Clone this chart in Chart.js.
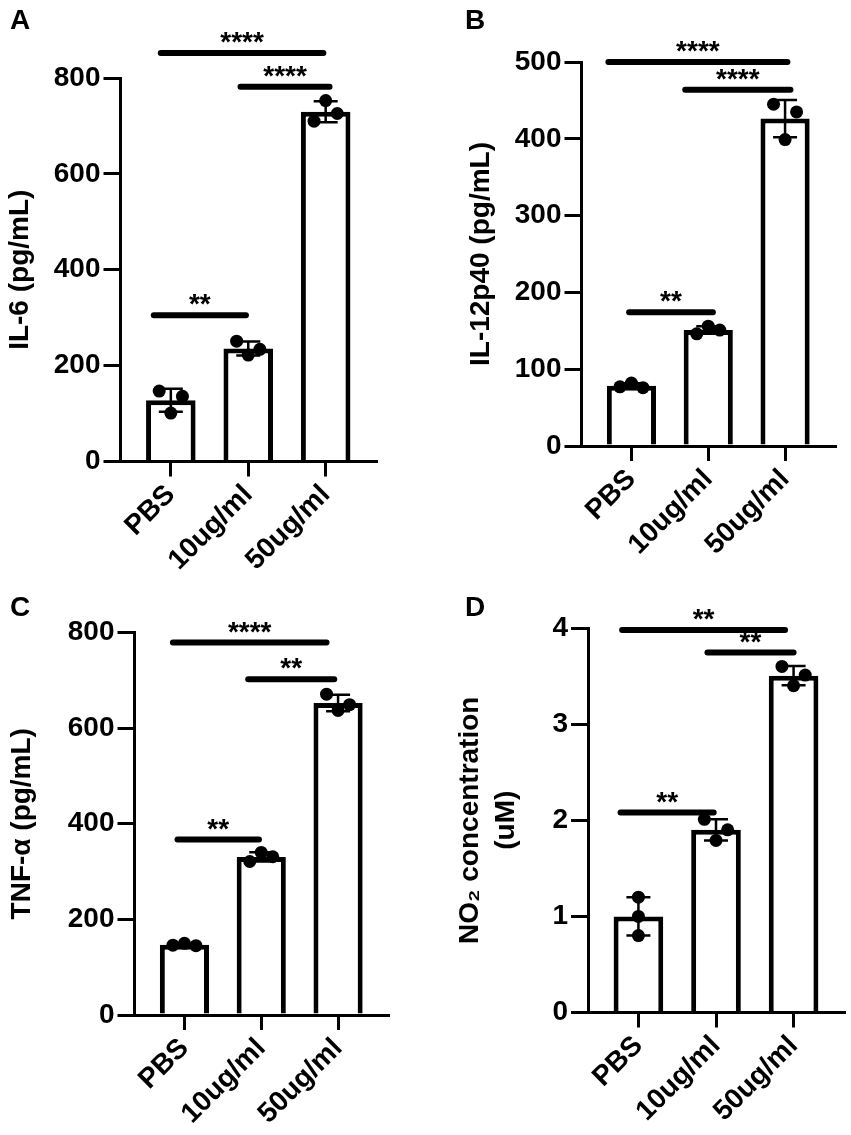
<!DOCTYPE html>
<html>
<head>
<meta charset="utf-8">
<title>Cytokine and NO2 release</title>
<script src="https://cdn.jsdelivr.net/npm/chart.js@4.4.1/dist/chart.umd.min.js"></script>
<style>
  body { margin: 0; background: #fff; }
  .panel { position: absolute; }
  .letter { position: absolute; font: bold 28px "Liberation Sans", Arial, sans-serif; line-height: 28px; color: #000; }
</style>
</head>
<body>
<div class="panel" style="left:0;top:0;width:425px;height:590px"><canvas id="chartA"></canvas></div>
<div class="panel" style="left:425px;top:0;width:426px;height:590px"><canvas id="chartB"></canvas></div>
<div class="panel" style="left:0;top:575px;width:425px;height:560px"><canvas id="chartC"></canvas></div>
<div class="panel" style="left:425px;top:575px;width:426px;height:560px"><canvas id="chartD"></canvas></div>
<div class="letter" style="left:10px;top:6px">A</div>
<div class="letter" style="left:465px;top:6px">B</div>
<div class="letter" style="left:10px;top:593px">C</div>
<div class="letter" style="left:465px;top:593px">D</div>
<script>
const groups = ['PBS', '10ug/ml', '50ug/ml'];

// three replicates per group
const il6 = [[147, 101, 136], [251, 222, 234], [710, 753, 726]];
const il12p40 = [[77, 82, 76], [146, 156, 151], [445, 399, 435]];
const tnfa = [[146, 150, 145], [321, 340, 331], [671, 637, 649]];
const no2 = [[1.2, 1.0, 0.8], [2.01, 1.79, 1.9], [3.60, 3.40, 3.51]];

const il6Ticks = [0, 200, 400, 600, 800];
const il12p40Ticks = [0, 100, 200, 300, 400, 500];
const tnfaTicks = [0, 200, 400, 600, 800];
const no2Ticks = [0, 1, 2, 3, 4];

// significance bars: [from group, to group, height, label]
const il6Sig = [[-0.13, 1.97, 852, '****'], [0.9, 2.05, 782, '****'], [-0.22, 0.97, 305, '**']];
const il12p40Sig = [[-0.3, 2.03, 500, '****'], [0.7, 2.07, 464, '****'], [-0.03, 1.06, 174, '**']];
const tnfaSig = [[-0.15, 1.85, 779, '****'], [0.83, 1.95, 702, '**'], [-0.09, 0.97, 367, '**']];
const no2Sig = [[-0.21, 1.89, 3.98, '**'], [0.89, 2.0, 3.745, '**'], [-0.23, 0.97, 2.08, '**']];

const FONT = '"Liberation Sans", Arial, sans-serif';
const mean = a => a.reduce((s, v) => s + v, 0) / a.length;
const sd = a => {
  const m = mean(a);
  return Math.sqrt(a.reduce((s, v) => s + (v - m) ** 2, 0) / (a.length - 1));
};

// spread the dots sideways only when they would overlap
function spread(reps, max) {
  const near = reps.some((v, i) => reps.some((w, j) => i !== j && Math.abs(v - w) < max * 0.036));
  return near ? [-0.15, 0, 0.15] : [0, 0, 0];
}

function marks(reps, sig) {
  return {
    id: 'marks',
    afterDatasetDraw(chart, args) {
      if (args.index !== 0) return;
      const {ctx, scales: {x, y}} = chart;
      ctx.save();
      ctx.strokeStyle = '#000';
      ctx.lineWidth = 2.5;
      reps.forEach((r, i) => {
        const m = mean(r), s = sd(r), px = x.getPixelForValue(i);
        const top = y.getPixelForValue(m + s), bot = y.getPixelForValue(m - s);
        ctx.beginPath();
        ctx.moveTo(px, top); ctx.lineTo(px, bot);
        ctx.moveTo(px - 12, top); ctx.lineTo(px + 12, top);
        ctx.moveTo(px - 12, bot); ctx.lineTo(px + 12, bot);
        ctx.stroke();
      });
      ctx.restore();
    },
    afterDraw(chart) {
      const {ctx, scales: {x, y}} = chart;
      ctx.save();
      ctx.strokeStyle = '#000';
      ctx.fillStyle = '#000';
      ctx.lineWidth = 6;
      ctx.lineCap = 'round';
      ctx.font = 'bold 28px ' + FONT;
      ctx.textAlign = 'center';
      ctx.textBaseline = 'alphabetic';
      sig.forEach(([a, b, v, label]) => {
        const x0 = x.getPixelForValue(a), x1 = x.getPixelForValue(b), py = y.getPixelForValue(v);
        ctx.beginPath();
        ctx.moveTo(x0, py); ctx.lineTo(x1, py);
        ctx.stroke();
        ctx.fillText(label, (x0 + x1) / 2, py - 2);
      });
      ctx.restore();
    }
  };
}

function panel(id, p) {
  const ticks = p.ticks;
  const max = ticks[ticks.length - 1];
  const font = {family: FONT, size: 28, weight: 'bold'};
  const dots = [];
  p.reps.forEach((r, i) => {
    const off = spread(r, max);
    r.forEach((v, k) => dots.push({x: i + off[k], y: v}));
  });
  const H = p.height;
  new Chart(document.getElementById(id), {
    data: {
      datasets: [
        {
          type: 'bar',
          data: p.reps.map((r, i) => ({x: i, y: mean(r)})),
          backgroundColor: '#fff',
          borderColor: '#000',
          borderWidth: 5,
          categoryPercentage: 0.8,
          barPercentage: 0.8,
          order: 2
        },
        {
          type: 'scatter',
          data: dots,
          pointRadius: 6.5,
          pointBackgroundColor: '#000',
          pointBorderWidth: 0,
          order: 1
        }
      ]
    },
    options: {
      responsive: true,
      maintainAspectRatio: false,
      animation: false,
      events: [],
      layout: {padding: {top: p.top, right: p.right, bottom: 0, left: 0}},
      plugins: {legend: {display: false}, tooltip: {enabled: false}},
      scales: {
        x: {
          type: 'linear',
          offset: false,
          min: -0.65,
          max: 2.65,
          afterBuildTicks: s => { s.ticks = groups.map((g, i) => ({value: i})); },
          afterFit: s => { s.height = H - p.bottom; },
          ticks: {
            callback: v => groups[v],
            autoSkip: false,
            minRotation: 45,
            maxRotation: 45,
            padding: 2,
            color: '#000',
            font: font
          },
          grid: {offset: false, drawOnChartArea: false, tickLength: 15, lineWidth: 3, color: '#000'},
          border: {width: 3, color: '#000'}
        },
        y: {
          min: 0,
          max: max,
          afterBuildTicks: s => { s.ticks = ticks.map(v => ({value: v})); },
          afterFit: s => { s.width = p.left; },
          ticks: {padding: 3, color: '#000', font: font},
          grid: {drawOnChartArea: false, tickLength: 17, lineWidth: 3, color: '#000'},
          border: {width: 3, color: '#000'},
          title: {
            display: true,
            text: p.title,
            color: '#000',
            font: {family: FONT, size: 28, weight: 'bold', lineHeight: 1.3},
            padding: {top: p.titlePad, bottom: 0}
          }
        }
      }
    },
    plugins: [marks(p.reps, p.sig)]
  });
}

panel('chartA', {reps: il6, ticks: il6Ticks, sig: il6Sig, title: 'IL-6 (pg/mL)',
  height: 590, left: 120.5, right: 49, top: 78, bottom: 461.5, titlePad: 2});
panel('chartB', {reps: il12p40, ticks: il12p40Ticks, sig: il12p40Sig, title: 'IL-12p40 (pg/mL)',
  height: 590, left: 156.5, right: 16, top: 62, bottom: 446, titlePad: 38});
panel('chartC', {reps: tnfa, ticks: tnfaTicks, sig: tnfaSig, title: 'TNF-\u03b1 (pg/mL)',
  height: 560, left: 134.5, right: 37, top: 57.5, bottom: 440, titlePad: 4});
panel('chartD', {reps: no2, ticks: no2Ticks, sig: no2Sig, title: ['NO\u2082 concentration', '(uM)'],
  height: 560, left: 163, right: 7, top: 53, bottom: 437.5, titlePad: 27});
</script>
</body>
</html>
